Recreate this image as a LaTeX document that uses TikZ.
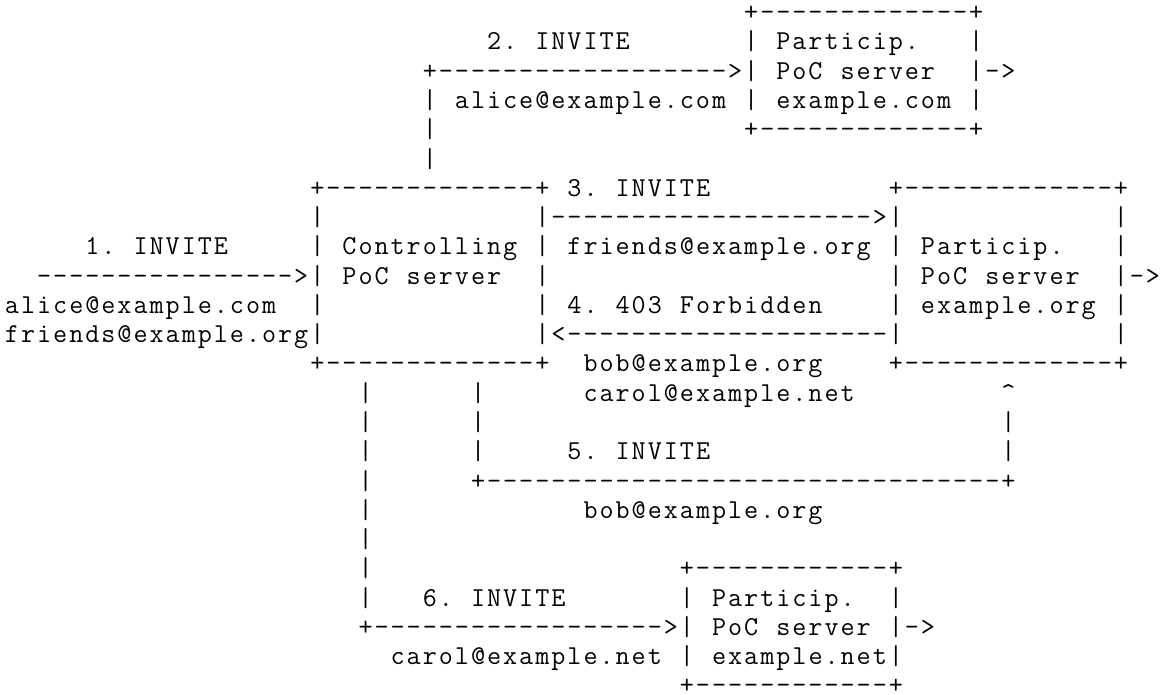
\documentclass[tikz,border=0pt]{standalone}
\usepackage{fontspec}
\def\cw{12.0525pt}
\def\rh{21.9525pt}
\ExplSyntaxOn
\NewDocumentCommand\gridtxt{m}{\str_map_inline:nn {#1}{\makebox[\cw][c]{##1}}}
\ExplSyntaxOff
\tikzset{asc/.style={anchor=base west,inner sep=0pt,outer sep=0pt,text depth=0pt,font=\ttfamily\fontsize{20.5pt}{22pt}\selectfont,text=black}}
\newcommand\frag[4]{\node[asc] (#1) at ({3pt+#2*\cw},{-15.525pt-#3*\rh}) {\gridtxt{#4}};}
\begin{document}
\begin{tikzpicture}
\fill[white] (0,0) rectangle (871.5pt,-521.25pt);
\useasboundingbox (0,0) rectangle (871.5pt,-521.25pt);
% row 0
\frag{comtop}{46}{0}{+-------------+}
% row 1
\frag{inv2}{30}{1}{2. INVITE}
\frag{comA}{46}{1}{| Particip.}
\frag{comAr}{60}{1}{|}
% row 2
\frag{arr2}{26}{2}{+------------------>| PoC server}
\frag{comBr}{60}{2}{|->}
% row 3
\frag{alice2}{26}{3}{| alice@example.com | example.com |}
% row 4
\frag{v4}{26}{4}{|}
\frag{combot}{46}{4}{+-------------+}
% row 5
\frag{v5}{26}{5}{|}
% row 6
\frag{ctltop}{19}{6}{+-------------+ 3. INVITE}
\frag{orgtop}{55}{6}{+-------------+}
% row 7
\frag{ctl7}{19}{7}{|}
\frag{arr3}{33}{7}{|-------------------->|}
\frag{org7}{69}{7}{|}
% row 8
\frag{inv1}{5}{8}{1. INVITE}
\frag{ctl8}{19}{8}{| Controlling | friends@example.org | Particip.}
\frag{org8}{69}{8}{|}
% row 9
\frag{arr1}{2}{9}{---------------->| PoC server}
\frag{ctl9}{33}{9}{|}
\frag{org9}{55}{9}{| PoC server}
\frag{org9r}{69}{9}{|->}
% row 10
\frag{alice1}{0}{10}{alice@example.com}
\frag{ctl10}{19}{10}{|}
\frag{resp4}{33}{10}{| 4. 403 Forbidden}
\frag{org10}{55}{10}{| example.org |}
% row 11
\frag{friends1}{0}{11}{friends@example.org|}
\frag{arr4}{33}{11}{|<--------------------|}
\frag{org11}{69}{11}{|}
% row 12
\frag{ctlbot}{19}{12}{+-------------+}
\frag{bob4}{36}{12}{bob@example.org}
\frag{orgbot}{55}{12}{+-------------+}
% row 13
\frag{va13}{22}{13}{|}
\frag{vb13}{29}{13}{|}
\frag{carol4}{36}{13}{carol@example.net}
\frag{up13}{62}{13}{^}
% row 14
\frag{va14}{22}{14}{|}
\frag{vb14}{29}{14}{|}
\frag{vc14}{62}{14}{|}
% row 15
\frag{va15}{22}{15}{|}
\frag{vb15}{29}{15}{|}
\frag{inv5}{35}{15}{5. INVITE}
\frag{vc15}{62}{15}{|}
% row 16
\frag{va16}{22}{16}{|}
\frag{arr5}{29}{16}{+--------------------------------+}
% row 17
\frag{va17}{22}{17}{|}
\frag{bob5}{36}{17}{bob@example.org}
% row 18
\frag{va18}{22}{18}{|}
% row 19
\frag{va19}{22}{19}{|}
\frag{nettop}{42}{19}{+------------+}
% row 20
\frag{va20}{22}{20}{|}
\frag{inv6}{26}{20}{6. INVITE}
\frag{netA}{42}{20}{| Particip.}
\frag{netAr}{55}{20}{|}
% row 21
\frag{arr6}{22}{21}{+------------------>| PoC server |->}
% row 22
\frag{carol6}{24}{22}{carol@example.net | example.net|}
% row 23
\frag{netbot}{42}{23}{+------------+}
\end{tikzpicture}
\end{document}
